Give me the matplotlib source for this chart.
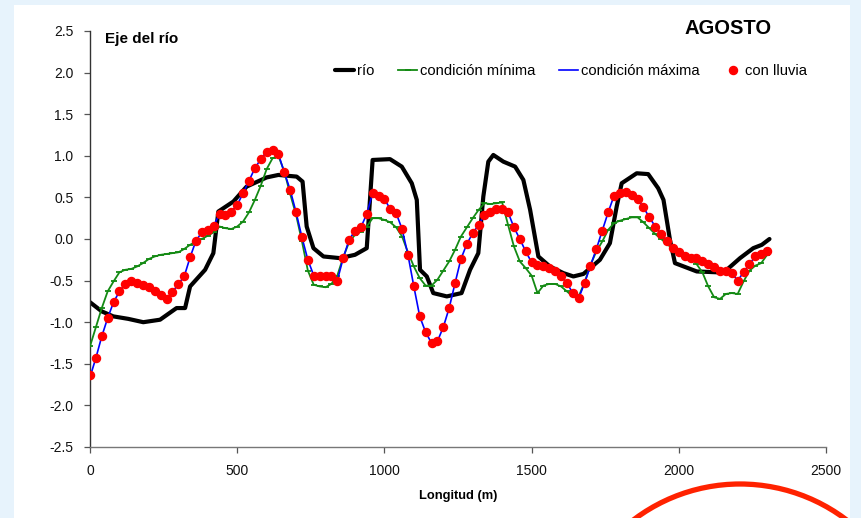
import numpy as np
import matplotlib
matplotlib.use("Agg")
import matplotlib.pyplot as plt
from matplotlib.patches import Circle, Rectangle

plt.rcParams['font.family'] = ['Liberation Sans', 'DejaVu Sans']

# --- river axis (smooth profile) ---
rio_x = [0, 40, 79, 130, 181, 238, 294, 323, 340, 391, 419, 436, 487, 532, 600,
         640, 702, 722, 736, 759, 793, 849, 900, 940, 960, 1019, 1059, 1093, 1110,
         1121, 1144, 1166, 1212, 1262, 1291, 1319, 1336, 1353, 1370, 1404, 1444,
         1472, 1495, 1523, 1562, 1608, 1642, 1676, 1732, 1766, 1789, 1806, 1857,
         1896, 1930, 1948, 1970, 1987, 2061, 2129, 2163, 2208, 2253, 2282, 2308]
rio_y = [-0.76, -0.87, -0.93, -0.96, -1.00, -0.97, -0.83, -0.83, -0.57, -0.37,
         -0.17, 0.33, 0.45, 0.63, 0.74, 0.77, 0.75, 0.69, 0.15, -0.11, -0.21,
         -0.23, -0.19, -0.11, 0.95, 0.96, 0.87, 0.67, 0.47, -0.37, -0.45, -0.65,
         -0.69, -0.65, -0.37, -0.17, 0.51, 0.93, 1.01, 0.93, 0.87, 0.71, 0.35,
         -0.21, -0.33, -0.41, -0.45, -0.42, -0.25, -0.05, 0.39, 0.67, 0.79, 0.78,
         0.61, 0.47, -0.01, -0.29, -0.39, -0.40, -0.37, -0.23, -0.11, -0.07, 0.00]

# --- stations every 20 m ---
est_x = np.arange(0, 2320, 20)

cond_min = [-1.29, -1.06, -0.83, -0.63, -0.51, -0.40, -0.37, -0.36, -0.33, -0.29,
            -0.24, -0.21, -0.19, -0.18, -0.17, -0.16, -0.12, -0.07, -0.03, 0.00,
            0.04, 0.08, 0.15, 0.13, 0.12, 0.15, 0.21, 0.32, 0.47, 0.64,
            0.84, 0.97, 1.00, 0.81, 0.54, 0.29, -0.03, -0.38, -0.55, -0.57,
            -0.58, -0.54, -0.44, -0.22, -0.04, 0.05, 0.09, 0.15, 0.25, 0.25,
            0.23, 0.20, 0.14, 0.03, -0.16, -0.33, -0.47, -0.56, -0.56, -0.49,
            -0.38, -0.27, -0.13, 0.03, 0.14, 0.25, 0.35, 0.43, 0.42, 0.43,
            0.44, 0.17, -0.09, -0.27, -0.35, -0.44, -0.65, -0.56, -0.54, -0.54,
            -0.57, -0.63, -0.69, -0.69, -0.52, -0.31, -0.15, -0.03, 0.11, 0.19,
            0.22, 0.24, 0.26, 0.26, 0.20, 0.13, 0.06, 0.00, -0.06, -0.12,
            -0.15, -0.18, -0.21, -0.30, -0.40, -0.57, -0.70, -0.72, -0.66, -0.65,
            -0.66, -0.51, -0.38, -0.32, -0.29, -0.19]

cond_max = [-1.66, -1.43, -1.17, -0.95, -0.76, -0.63, -0.54, -0.50, -0.53, -0.55,
            -0.58, -0.62, -0.67, -0.72, -0.64, -0.54, -0.45, -0.22, -0.02, 0.08,
            0.11, 0.16, 0.30, 0.29, 0.33, 0.41, 0.55, 0.70, 0.85, 0.96,
            1.05, 1.07, 1.02, 0.80, 0.59, 0.32, 0.02, -0.25, -0.44, -0.44,
            -0.44, -0.45, -0.50, -0.23, -0.01, 0.10, 0.14, 0.30, 0.55, 0.52,
            0.48, 0.36, 0.31, 0.12, -0.19, -0.57, -0.93, -1.12, -1.25, -1.23,
            -1.06, -0.83, -0.53, -0.24, -0.06, 0.07, 0.17, 0.29, 0.33, 0.36,
            0.36, 0.32, 0.14, 0.00, -0.15, -0.28, -0.31, -0.33, -0.35, -0.39,
            -0.45, -0.53, -0.65, -0.71, -0.53, -0.32, -0.12, 0.10, 0.32, 0.52,
            0.55, 0.56, 0.53, 0.48, 0.38, 0.26, 0.15, 0.06, -0.02, -0.11,
            -0.16, -0.21, -0.23, -0.23, -0.26, -0.30, -0.34, -0.38, -0.38, -0.41,
            -0.50, -0.40, -0.30, -0.21, -0.18, -0.14]

con_lluvia = [-1.635, -1.43, -1.17, -0.95, -0.76, -0.63, -0.54, -0.50, -0.53, -0.55,
              -0.58, -0.62, -0.67, -0.72, -0.64, -0.54, -0.45, -0.22, -0.02, 0.08,
              0.11, 0.16, 0.30, 0.29, 0.33, 0.41, 0.55, 0.70, 0.85, 0.96,
              1.05, 1.07, 1.02, 0.80, 0.59, 0.32, 0.02, -0.25, -0.44, -0.44,
              -0.44, -0.45, -0.50, -0.23, -0.01, 0.10, 0.14, 0.30, 0.55, 0.52,
              0.48, 0.36, 0.31, 0.12, -0.19, -0.57, -0.93, -1.12, -1.25, -1.23,
              -1.06, -0.83, -0.53, -0.24, -0.06, 0.07, 0.17, 0.29, 0.33, 0.36,
              0.36, 0.32, 0.14, 0.00, -0.15, -0.28, -0.31, -0.33, -0.35, -0.39,
              -0.45, -0.53, -0.65, -0.71, -0.53, -0.32, -0.12, 0.10, 0.32, 0.52,
              0.55, 0.56, 0.53, 0.48, 0.38, 0.26, 0.15, 0.06, -0.02, -0.11,
              -0.16, -0.21, -0.23, -0.23, -0.26, -0.30, -0.34, -0.38, -0.38, -0.41,
              -0.50, -0.40, -0.30, -0.21, -0.18, -0.14]

x_ticks = [0, 500, 1000, 1500, 2000, 2500]
y_ticks = [-2.5, -2.0, -1.5, -1.0, -0.5, 0.0, 0.5, 1.0, 1.5, 2.0, 2.5]

W, H = 862, 518
fig = plt.figure(figsize=(W / 100, H / 100), dpi=100, facecolor='#e7f3fc')

# white slide panel, drawn in pixel space
bg = fig.add_axes([0, 0, 1, 1], zorder=0)
bg.set_xlim(0, W)
bg.set_ylim(H, 0)
bg.axis('off')
bg.add_patch(Rectangle((14, 5), 836, 520, facecolor='white', edgecolor='none'))

ax = fig.add_axes([90 / W, 1 - 447 / H, (826 - 90) / W, (447 - 31) / H], zorder=1)
ax.patch.set_alpha(0)

l_rio, = ax.plot(rio_x, rio_y, color='black', lw=3.0, solid_capstyle='round',
                 solid_joinstyle='round', label='río', zorder=2)
l_min, = ax.plot(est_x, cond_min, color='#138a13', lw=1.3, marker='_', ms=5,
                 mew=1.3, label='condición mínima', zorder=3)
l_max, = ax.plot(est_x, cond_max, color='#0000ff', lw=1.2, label='condición máxima',
                 zorder=4)
l_llu, = ax.plot(est_x, con_lluvia, ls='none', marker='o', ms=5.8, color='#ff0000',
                 mec='#ff0000', label='con lluvia', zorder=5)

ax.set_xlim(0, 2500)
ax.set_ylim(-2.5, 2.5)
ax.set_xticks(x_ticks)
ax.set_yticks(y_ticks)
ax.set_yticklabels([f'{v:.1f}' for v in y_ticks])
ax.tick_params(axis='both', direction='out', length=4, width=0.9, color='#555555',
               labelsize=10, labelcolor='#111111')
ax.tick_params(axis='y', pad=8)
ax.tick_params(axis='x', pad=8)
for s in ('top', 'right'):
    ax.spines[s].set_visible(False)
ax.spines['left'].set_color('#333333')
ax.spines['bottom'].set_color('#777777')
ax.spines['left'].set_linewidth(1.0)
ax.spines['bottom'].set_linewidth(1.0)

ax.set_xlabel('Longitud (m)', fontsize=9.3, fontweight='bold', labelpad=9)
ax.text(15 / 736, 1 - 1 / 416, 'Eje del río', transform=ax.transAxes,
        fontsize=11, fontweight='bold', va='top', ha='left')
ax.text((728 - 90) / 736, 1 + 3 / 416, 'AGOSTO', transform=ax.transAxes,
        fontsize=14.5, fontweight='bold', va='center', ha='center')

leg = ax.legend(handles=[l_rio, l_min, l_max, l_llu], ncol=4, frameon=False,
                loc='center left', bbox_to_anchor=((335 - 90) / 736, (447 - 71) / 416),
                fontsize=10.6, handlelength=1.3, handletextpad=0.2, columnspacing=1.6,
                borderaxespad=0, borderpad=0)

# decorative red arc at the lower right of the slide
top = fig.add_axes([0, 0, 1, 1], zorder=3)
top.set_xlim(0, W)
top.set_ylim(H, 0)
top.axis('off')
top.patch.set_alpha(0)
top.add_patch(Circle((740, 660), 176, facecolor='none', edgecolor='#ff2200', lw=3.8))

fig.savefig('out.png', dpi=100, facecolor=fig.get_facecolor())
